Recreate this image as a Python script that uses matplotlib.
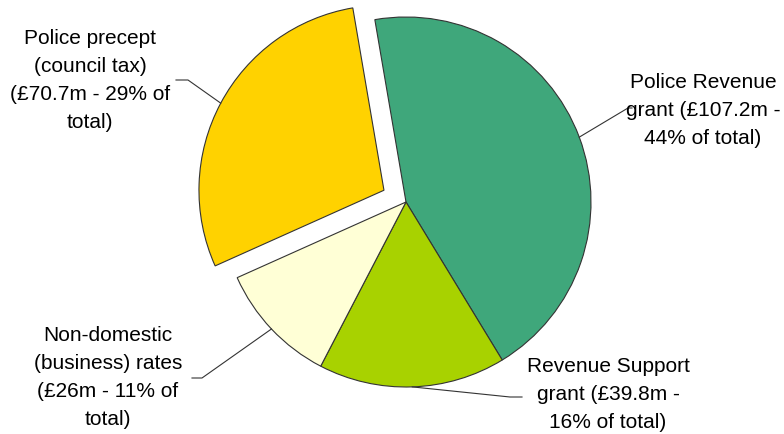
import numpy as np
import matplotlib
matplotlib.use('Agg')
import matplotlib.pyplot as plt

plt.rcParams['font.family'] = ['Liberation Sans', 'DejaVu Sans']

# funding sources (£m), clockwise from the top
sources = ["Police Revenue grant", "Revenue Support grant",
           "Non-domestic (business) rates", "Police precept (council tax)"]
amounts = [107.2, 39.8, 26.0, 70.7]
labels = ["Police Revenue\ngrant (£107.2m -\n44% of total)",
          "Revenue Support\ngrant (£39.8m -\n16% of total)",
          "Non-domestic\n(business) rates\n(£26m - 11% of\ntotal)",
          "Police precept\n(council tax)\n(£70.7m - 29% of\ntotal)"]
colors = ["#3FA77B", "#A8D200", "#FFFFD6", "#FFD200"]
explode = [0, 0, 0, 0.135]

W, H = 784, 435
CX, CY, R = 406, 203, 185   # pie centre / radius in pixels


def px(x, y):
    # pixel position -> data units (pie radius = 1)
    return (x - CX) / R, (CY - y) / R


fig = plt.figure(figsize=(W / 100, H / 100), dpi=100)
ax = fig.add_axes([0, 0, 1, 1])

wedges, _ = ax.pie(amounts, colors=colors, explode=explode, startangle=99.7,
                   counterclock=False, radius=1,
                   wedgeprops=dict(edgecolor='#333333', linewidth=0.8))

ax.set_xlim(-CX / R, (W - CX) / R)
ax.set_ylim(-(H - CY) / R, CY / R)
ax.set_aspect('equal')
ax.axis('off')

# label text centre and leader elbow (pixels): text-side x, elbow x, y
text_pos = [(703, 110), (608, 395), (108, 378), (90, 80)]
elbows = [(632, 628, 109), (522, 510, 398), (192, 202, 379), (176, 188, 81)]

for w, lab, tp, el in zip(wedges, labels, text_pos, elbows):
    mid = np.deg2rad((w.theta1 + w.theta2) / 2)
    cx, cy = w.center
    ex, ey = cx + np.cos(mid), cy + np.sin(mid)
    x0, y0 = px(el[0], el[2])
    x1, _ = px(el[1], el[2])
    ax.plot([x0, x1, ex], [y0, y0, ey], color='#333333', lw=0.8)
    tx, ty = px(*tp)
    ax.text(tx, ty, lab, ha='center', va='center', fontsize=15,
            linespacing=1.6, color='black')

fig.savefig('out.png', dpi=100)
